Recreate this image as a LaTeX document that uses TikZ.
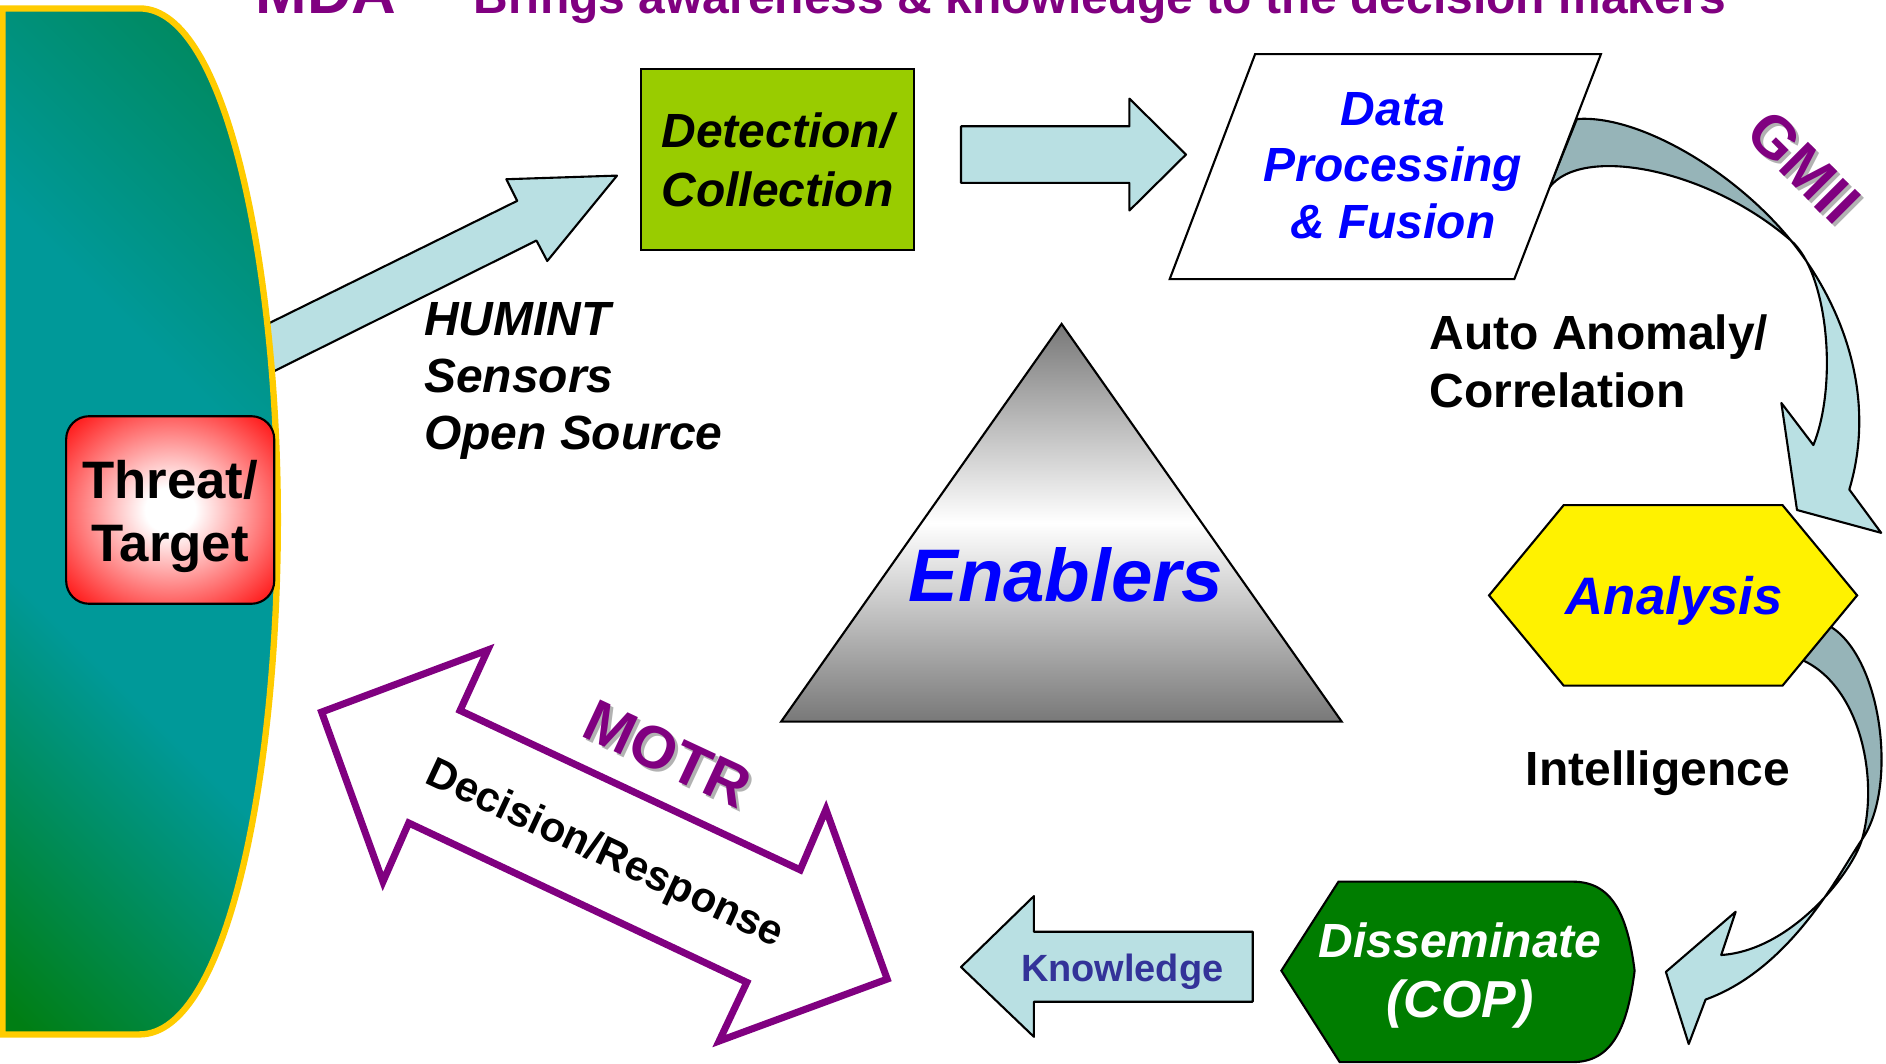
\documentclass[tikz,border=0pt]{standalone}
\usepackage{fontspec}
\setmainfont{Liberation Sans}
\usepackage{tikz}
\usepackage{color}
\definecolor{arrowblue}{RGB}{185,224,227}
\definecolor{ribbongrey}{RGB}{150,180,184}
\definecolor{limegreen}{RGB}{153,204,0}
\definecolor{copgreen}{RGB}{0,125,0}
\definecolor{mdapurple}{RGB}{128,0,128}
\definecolor{knowblue}{RGB}{51,51,153}
\definecolor{zoneteal}{RGB}{0,153,153}
\definecolor{zonegreen}{RGB}{0,126,20}
\definecolor{zonesea}{RGB}{0,134,84}
\definecolor{zoneyellow}{RGB}{255,204,0}
\definecolor{pyramidgrey}{RGB}{120,120,120}
\definecolor{shadowgrey}{RGB}{178,178,178}
\definecolor{threatred}{RGB}{255,20,20}
\pgfdeclareradialshading{threatglow}{\pgfpoint{0bp}{0bp}}{color(0bp)=(white); color(6bp)=(white); color(34bp)=(threatred); color(50bp)=(threatred)}
\pgfdeclareverticalshading{zonefade}{100bp}{color(0bp)=(zonegreen); color(16bp)=(zonegreen); color(40bp)=(zoneteal); color(60bp)=(zoneteal); color(84bp)=(zonesea); color(100bp)=(zonesea)}

\begin{document}
\begin{tikzpicture}[x=0.12028mm,y=-0.12028mm,
  blockarrow/.style={draw=black,line width=0.6pt,fill=arrowblue,line join=round},
  ribbonback/.style={draw=black,line width=0.6pt,fill=ribbongrey,line join=round},
  plain/.style={inner sep=0pt,font=\fontsize{13.65}{16.2}\selectfont\bfseries},
  slanted/.style={inner sep=0pt,font=\fontsize{13.65}{16.2}\selectfont\bfseries\itshape},
  shadowtxt/.style={inner sep=0pt,text=shadowgrey,font=\fontsize{17}{20}\selectfont\bfseries},
  bigtxt/.style={inner sep=0pt,text=mdapurple,font=\fontsize{17}{20}\selectfont\bfseries}]
\useasboundingbox (0,0) rectangle (1568,884);
\clip (0,0) rectangle (1568,884);

\node[inner sep=0pt,anchor=base west,text=mdapurple,font=\bfseries] (title) at (212,11) {\fontsize{17.6}{20}\selectfont MDA\hspace{7.7mm}\fontsize{13.65}{16}\selectfont Brings awareness \& knowledge to the decision makers};

\draw[blockarrow] (216,272.5) -- (430,167) -- (421,149) -- (513,146) -- (455,217) -- (446,200) -- (220,312.5) -- cycle;
\draw[line width=1.8pt,draw=zoneyellow,shade,shading=zonefade,shading angle=-45] (2,7) -- (116,7) .. controls (190,7) and (231,230) .. (231,432) .. controls (231,640) and (190,860) .. (116,860) -- (2,860) -- cycle;
\node[draw=black,line width=0.6pt,rounded corners=2.3mm,shade,shading=threatglow,minimum width=20.81mm,minimum height=18.76mm,inner sep=0pt,text height=11.45mm,align=center,font=\fontsize{15}{18.1}\selectfont\bfseries] (threat) at (141.5,424) {Threat/\\Target};

\node[draw=black,line width=0.6pt,fill=limegreen,minimum width=27.3mm,minimum height=18.16mm,inner sep=0pt,align=center,font=\fontsize{13.65}{16.8}\selectfont\bfseries\itshape] (det) at (646.5,132.5) {Detection/\\Collection};
\draw[blockarrow] (799,105) -- (939,105) -- (939,82) -- (986,128.5) -- (939,175) -- (939,152) -- (799,152) -- cycle;

\draw[ribbonback] (1311,99) .. controls (1360,95) and (1440,140) .. (1489,200) .. controls (1420,140) and (1315,120) .. (1288,156) -- cycle;
\draw[blockarrow] (1489,200) .. controls (1528,248) and (1562,325) .. (1537.5,407) -- (1564,443) -- (1494,424) -- (1481,335) -- (1507.6,370) .. controls (1528,320) and (1520,227) .. (1489,200) -- cycle;
\draw[line width=0.6pt,fill=white] (1043.5,45) -- (1331,45) -- (1259,232) -- (972.5,232) -- cycle;
\node[inner sep=0pt,align=center,text=blue,font=\fontsize{13.65}{16.1}\selectfont\bfseries\itshape] (data) at (1158,137.5) {Data\\Processing\\\& Fusion};
\node[shadowtxt,rotate=-45] (gmiishadow) at (1502.5,141.5) {GMII};
\node[bigtxt,rotate=-45] (gmii) at (1500,139) {GMII};
\node[plain,align=left,anchor=west,font=\fontsize{13.65}{16.4}\selectfont\bfseries] (auto) at (1188,300.5) {Auto Anomaly/\\Correlation};
\node[slanted,align=left,anchor=west] (humint) at (352,316.4) {HUMINT\\Sensors\\Open Source};

\draw[line width=0.6pt,top color=pyramidgrey,bottom color=pyramidgrey,middle color=white] (882.6,269.3) -- (1115.5,600) -- (649.4,600) -- cycle;
\node[inner sep=0pt,anchor=base,text=blue,font=\fontsize{21.2}{25}\selectfont\bfseries\itshape] (enab) at (886,500) {Enablers};

\draw[ribbonback] (1522,521) .. controls (1565,548) and (1578,655) .. (1548,698) .. controls (1562,650) and (1548,572) .. (1499,549) -- cycle;
\draw[blockarrow] (1548,698) .. controls (1530,724) and (1490,805) .. (1418,831) -- (1404,868) -- (1385,808) -- (1443,758) -- (1431,794) .. controls (1490,790) and (1540,725) .. (1548,698) -- cycle;
\draw[line width=0.6pt,fill=yellow] (1238,495) -- (1300,420) -- (1482,420) -- (1544,495) -- (1482,570) -- (1300,570) -- cycle;
\node[inner sep=0pt,anchor=base,text=blue,font=\fontsize{15}{18}\selectfont\bfseries\itshape] (ana) at (1392,511) {Analysis};
\node[plain,anchor=base west] (intel) at (1268,653) {Intelligence};

\draw[line width=0.6pt,fill=copgreen] (1065.3,807) -- (1112.8,733) -- (1307.6,733) .. controls (1340,733) and (1353,760) .. (1359,807) .. controls (1353,855) and (1340,883) .. (1307.6,883) -- (1113.8,883) -- cycle;
\node[align=center,inner sep=0pt,text=white,font=\fontsize{13.65}{17.1}\selectfont\bfseries\itshape] (diss) at (1214,811) {Disseminate\\{\fontsize{14.8}{17.1}\selectfont (COP)}};
\draw[blockarrow] (1041.5,774.6) -- (859.6,774.6) -- (859.6,745) -- (799,804) -- (859.6,862) -- (859.6,832.8) -- (1041.5,832.8) -- cycle;
\node[inner sep=0pt,anchor=base,text=knowblue,font=\fontsize{10.8}{13}\selectfont\bfseries] (know) at (933,816) {Knowledge};

\draw[draw=mdapurple,line width=2pt,fill=white,line join=miter] (267.4,592) -- (405.5,540.4) -- (382.5,590.7) -- (665.3,723.2) -- (686.7,673) -- (737.6,814) -- (597.9,865.5) -- (620.9,816.7) -- (339.8,684.2) -- (318.4,733) -- cycle;
\node[shadowtxt,rotate=-25] (motrshadow) at (557.5,629.5) {MOTR};
\node[bigtxt,rotate=-25] (motr) at (555,627) {MOTR};
\node[inner sep=0pt,rotate=-25,font=\fontsize{12}{14}\selectfont\bfseries] (dec) at (502.6,710.7) {Decision/Response};
\end{tikzpicture}
\end{document}
